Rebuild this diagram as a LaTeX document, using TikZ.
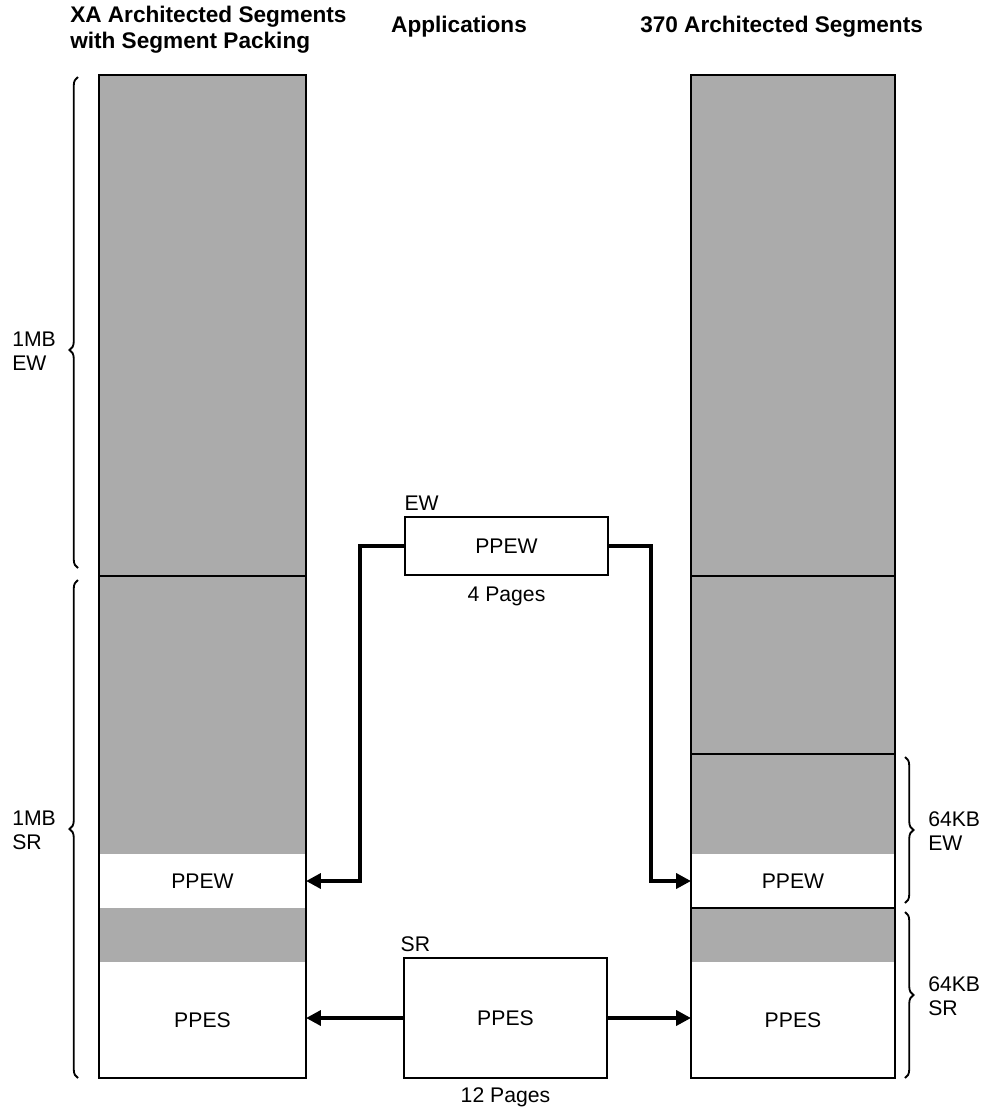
\documentclass[tikz,border=0pt]{standalone}
\usepackage{fontspec}
\setmainfont{Liberation Sans}
\usetikzlibrary{arrows.meta, positioning, calc, decorations.pathreplacing}
\definecolor{segshade}{HTML}{ABABAB}
\tikzset{
  band/.style={rectangle, fill=white, inner sep=0pt, outer sep=0pt,
               minimum width=#1, align=center},
  band/.default=146.6pt,
  appbox/.style={rectangle, draw=black, line width=1.1pt, fill=white,
                 inner sep=0pt, minimum width=143.7pt, align=center},
  lbl/.style={inner sep=0pt, align=left},
  head/.style={inner sep=0pt, align=left,
               font=\fontsize{16}{18}\selectfont\bfseries},
  link/.style={line width=2.7pt, -{Triangle[length=10.5pt, width=10.5pt]}},
  sizebrace/.style={decorate, decoration={brace, amplitude=6pt, aspect=#1},
                    line width=1.3pt},
  sizebrace/.default=0.5,
}

\begin{document}
\begin{tikzpicture}[
  x=0.708pt, y=-0.708pt,
  every node/.style={font=\fontsize{15}{17}\selectfont},
  divider/.style={line width=0.8pt},
  outline/.style={line width=1.1pt}
]
  \useasboundingbox (0,0) rectangle (998,1114);

  % column headings
  \node[head, anchor=north west] (xahead) at (70,6) {XA Architected Segments\\with Segment Packing};
  \node[head] (apphead) at (459,27) {Applications};
  \node[head, anchor=west] (s370head) at (640,27) {370 Architected Segments};

  % XA segments
  \fill[segshade] (99,75) rectangle (306,1078);
  \node[band, minimum height=38.2pt] (xaew) at (202.5,881) {PPEW};
  \node[band, minimum height=82.1pt] (xaes) at (202.5,1020) {PPES};
  \draw[outline] (99,75) rectangle (306,1078);
  \draw[divider] (99,576) -- (306,576);

  % 370 segments
  \fill[segshade] (691,75) rectangle (895,1078);
  \node[band=144.4pt, minimum height=38.2pt] (s370ew) at (793,881) {PPEW};
  \node[band=144.4pt, minimum height=82.1pt] (s370es) at (793,1020) {PPES};
  \draw[outline] (691,75) rectangle (895,1078);
  \draw[divider] (691,576) -- (895,576);
  \draw[divider] (691,754) -- (895,754);
  \draw[divider] (691,908) -- (895,908);

  % applications
  \node[appbox, minimum height=41.1pt] (ppew) at (506.5,546) {PPEW};
  \node[appbox, minimum height=85pt] (ppes) at (505.5,1018) {PPES};
  \node[lbl, above right=4pt and 0pt of ppew.north west] (ewtag) {EW};
  \node[lbl, above right=4pt and -2pt of ppes.north west] (srtag) {SR};
  \node[lbl, below=8pt of ppew] (ewpages) {4 Pages};
  \node[lbl, below=6pt of ppes] (srpages) {12 Pages};

  \draw[link] (ppew.west) -- ++(-44,0) |- (xaew.east);
  \draw[link] (ppew.east) -- ++(42,0) |- (s370ew.west);
  \draw[link] (ppes.west) -- (ppes.west -| xaes.east);
  \draw[link] (ppes.east) -- (ppes.east -| s370es.west);

  % size braces
  \draw[sizebrace=0.444] (78,568) -- (78,77);
  \draw[sizebrace] (78,1078) -- (78,580);
  \draw[sizebrace] (905,757) -- (905,903);
  \draw[sizebrace] (905,912) -- (905,1078);
  \node[lbl, anchor=west] (xaewsize) at (12,351) {1MB\\EW};
  \node[lbl, anchor=west] (xasrsize) at (12,830) {1MB\\SR};
  \node[lbl, anchor=west] (s370ewsize) at (928,831) {64KB\\EW};
  \node[lbl, anchor=west] (s370srsize) at (928,996) {64KB\\SR};
\end{tikzpicture}
\end{document}
